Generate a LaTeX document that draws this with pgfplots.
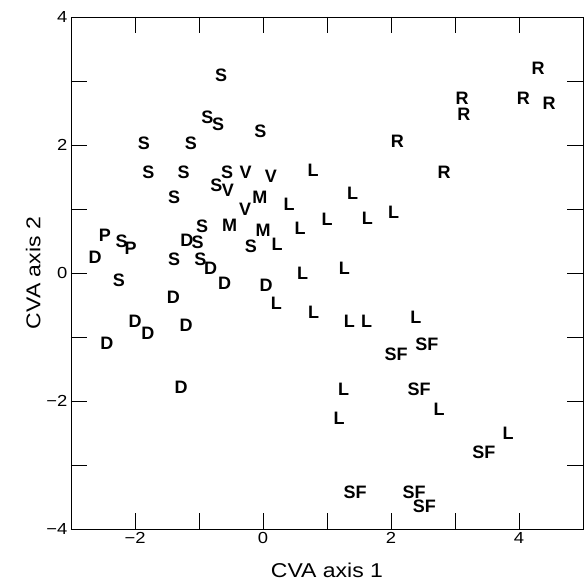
\documentclass[border=0pt]{standalone}
\usepackage{fontspec}
\setmainfont{Liberation Sans}
\newfontfamily\widesans[FakeStretch=1.15]{Liberation Sans}
\usepackage{pgfplots}
\pgfplotsset{compat=1.18}
\usetikzlibrary{calc}
\begin{document}
\begin{tikzpicture}
\begin{axis}[
  scale only axis, width=512pt, height=512pt,
  xmin=-3, xmax=5, ymin=-4, ymax=4,
  xtick={-2,0,2,4}, xticklabels={−2,0,2,4},
  minor xtick={-1,1,3},
  ytick={-4,-2,0,2,4}, yticklabels={−4,−2,0,2,4},
  minor ytick={-3,-1,1,3},
  tick align=inside,
  major tick length=16pt, minor tick length=16pt,
  every tick/.style={black, line width=0.9pt},
  axis line style={line width=0.9pt},
  tick label style={font=\widesans\fontsize{16}{16}\selectfont},
  xlabel={CVA axis 1}, ylabel={CVA axis 2},
  label style={font=\widesans\fontsize{20}{20}\selectfont},
  xlabel style={at={(axis description cs:0.5,-0.08)}, anchor=center},
  ylabel style={at={(axis description cs:-0.074,0.5)}, anchor=center},
  clip=false,
]
\coordinate (A) at (rel axis cs:0,0);
\addplot[only marks, mark=none, point meta=explicit symbolic,
  nodes near coords,
  nodes near coords style={anchor=center, inner sep=0pt, font=\bfseries\fontsize{18}{18}\selectfont}]
table[meta=lab] {
x y lab
-0.656 3.09 S
-0.87 2.44 S
-0.70 2.32 S
-0.04 2.22 S
-1.86 2.03 S
-1.125 2.03 S
-1.79 1.58 S
-1.24 1.58 S
-0.56 1.58 S
-0.73 1.37 S
-1.39 1.19 S
-0.95 0.73 S
-2.21 0.49 S
-1.02 0.48 S
-0.19 0.41 S
-1.39 0.21 S
-0.98 0.22 S
-2.25 -0.12 S
-0.27 1.58 V
0.125 1.51 V
-0.55 1.29 V
-0.28 0.99 V
-0.05 1.18 M
-0.52 0.75 M
0.00 0.67 M
-2.47 0.59 P
-2.07 0.39 P
-1.19 0.51 D
-2.625 0.24 D
-0.82 0.08 D
-0.60 -0.16 D
0.05 -0.20 D
-1.40 -0.38 D
-2.00 -0.76 D
-1.80 -0.94 D
-1.20 -0.81 D
-2.44 -1.10 D
-1.28 -1.79 D
0.785 1.61 L
1.40 1.25 L
0.41 1.075 L
1.00 0.84 L
1.63 0.85 L
2.04 0.95 L
0.58 0.70 L
0.22 0.45 L
0.62 -0.01 L
1.27 0.08 L
0.21 -0.48 L
0.79 -0.62 L
1.35 -0.76 L
1.62 -0.76 L
2.39 -0.69 L
1.26 -1.82 L
1.19 -2.27 L
2.75 -2.13 L
3.83 -2.50 L
4.30 3.20 R
3.11 2.73 R
3.14 2.48 R
4.07 2.73 R
4.47 2.65 R
2.10 2.05 R
2.83 1.57 R
2.56 -1.11 SF
2.08 -1.27 SF
2.44 -1.81 SF
3.45 -2.80 SF
1.44 -3.43 SF
2.36 -3.42 SF
2.52 -3.65 SF
};
\end{axis}
\pgfresetboundingbox
\path[use as bounding box] ($(A)+(-71pt,-58pt)$) rectangle ($(A)+(513pt,529pt)$);
\end{tikzpicture}
\end{document}
